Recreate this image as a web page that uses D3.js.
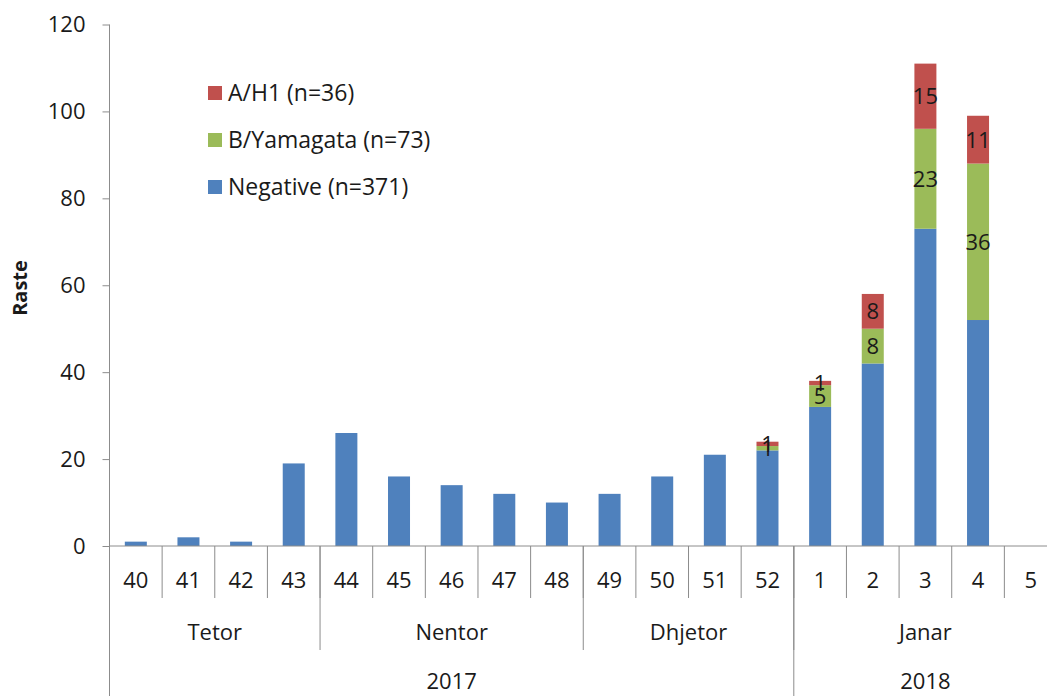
<!DOCTYPE html>
<html><head><meta charset="utf-8">
<script src="https://cdn.jsdelivr.net/npm/d3@7"></script>
<style>
html,body{margin:0;padding:0;background:#fff;}
svg text{font-family:"Open Sans","Noto Sans",sans-serif;fill:#1a1a1a;}
</style></head>
<body><svg id="chart" width="1047" height="696"></svg>
<script>
const weeks = ["40","41","42","43","44","45","46","47","48","49","50","51","52","1","2","3","4","5"];
const negative = [1,2,1,19,26,16,14,12,10,12,16,21,22,32,42,73,52,0];
const bYamagata = [0,0,0,0,0,0,0,0,0,0,0,0,1,5,8,23,36,0];
const aH1 = [0,0,0,0,0,0,0,0,0,0,0,0,1,1,8,15,11,0];
const seriesNames = ["Negative (n=371)","B/Yamagata (n=73)","A/H1 (n=36)"];
const seriesColors = ["#4F81BD","#9BBB59","#C0504D"];
const months = [{name:"Tetor",from:"40",to:"43"},{name:"Nentor",from:"44",to:"48"},{name:"Dhjetor",from:"49",to:"52"},{name:"Janar",from:"1",to:"5"}];
const years = [{name:"2017",from:"40",to:"52"},{name:"2018",from:"1",to:"5"}];
const yTicks = [0,20,40,60,80,100,120];

const svg = d3.select("#chart");
const pLeft = 109.5, pRight = 1057, pTop = 24.5, pBottom = 546;
const x = d3.scaleBand().domain(weeks).range([pLeft, pRight]).padding(0);
const y = d3.scaleLinear().domain([0,120]).range([pBottom, pTop]);
const step = x.step();
const bw = 22;
const fs = "22px";

const table = weeks.map((w,i)=>({week:w, neg:negative[i], b:bYamagata[i], a:aH1[i]}));
const stack = d3.stack().keys(["neg","b","a"])(table);

const axisColor = "#8c8c8c";

// bars
stack.forEach((layer, li) => {
  svg.append("g").selectAll("rect").data(layer).join("rect")
    .attr("x", d => x(d.data.week) + (step - bw)/2)
    .attr("width", bw)
    .attr("y", d => y(d[1]))
    .attr("height", d => y(d[0]) - y(d[1]))
    .attr("fill", seriesColors[li]);
});

// data labels for B and A
[1,2].forEach(li => {
  svg.append("g").selectAll("text").data(stack[li].filter(d => d[1]-d[0] > 0)).join("text")
    .attr("x", d => x(d.data.week) + step/2)
    .attr("y", d => y((d[0]+d[1])/2))
    .attr("dy","0.36em")
    .attr("text-anchor","middle")
    .style("font-size",fs)
    .text(d => d[1]-d[0]);
});

// y axis
const yAxis = d3.axisLeft(y).tickValues(yTicks).tickSize(7).tickPadding(17);
const ga = svg.append("g").attr("transform",`translate(${pLeft},0)`).call(yAxis);
ga.select(".domain").remove();
ga.selectAll("line").attr("stroke",axisColor);
ga.selectAll("text").style("font-size",fs).style("font-family",'"Open Sans","Noto Sans",sans-serif').attr("fill","#1a1a1a");
svg.append("line").attr("x1",pLeft).attr("x2",pLeft).attr("y1",pTop).attr("y2",696).attr("stroke",axisColor);

// x axis baseline
svg.append("line").attr("x1",pLeft).attr("x2",pRight).attr("y1",y(0)).attr("y2",y(0)).attr("stroke",axisColor);

// week separators and labels
svg.append("g").selectAll("line").data(weeks.slice(1).concat(["end"])).join("line")
  .attr("x1", d => d==="end" ? pRight : x(d)).attr("x2", d => d==="end" ? pRight : x(d))
  .attr("y1", pBottom).attr("y2", 598).attr("stroke", axisColor);
svg.append("g").selectAll("text").data(weeks).join("text")
  .attr("x", d => x(d)+step/2).attr("y", 580).attr("dy","0.36em")
  .attr("text-anchor","middle").style("font-size",fs).text(d=>d);

// months
months.forEach((m,i) => {
  const x0 = x(m.from), x1 = x(m.to)+step;
  if (i>0) svg.append("line").attr("x1",x0).attr("x2",x0).attr("y1",pBottom).attr("y2",650).attr("stroke",axisColor);
  svg.append("text").attr("x",(x0+x1)/2).attr("y",632).attr("dy","0.36em")
    .attr("text-anchor","middle").style("font-size",fs).text(m.name);
});
// years
years.forEach((yr,i) => {
  const x0 = x(yr.from), x1 = x(yr.to)+step;
  if (i>0) svg.append("line").attr("x1",x0).attr("x2",x0).attr("y1",pBottom).attr("y2",696).attr("stroke",axisColor);
  svg.append("text").attr("x",(x0+x1)/2).attr("y",681).attr("dy","0.36em")
    .attr("text-anchor","middle").style("font-size",fs).text(yr.name);
});

// y title
svg.append("text").attr("transform","translate(20,288) rotate(-90)")
  .attr("text-anchor","middle").attr("dy","0.36em").style("font-size","20px").style("font-weight","bold").text("Raste");

// legend
const legendOrder = [2,1,0];
legendOrder.forEach((si,i) => {
  const ly = 93 + i*47;
  svg.append("rect").attr("x",208).attr("y",ly-7).attr("width",14).attr("height",14).attr("fill",seriesColors[si]);
  svg.append("text").attr("x",228).attr("y",ly).attr("dy","0.36em").style("font-size","23px").text(seriesNames[si]);
});
</script>
</body></html>
